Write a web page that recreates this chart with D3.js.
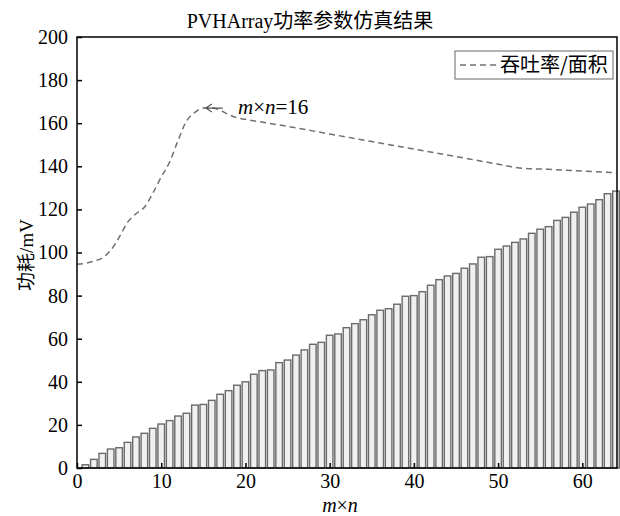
<!DOCTYPE html>
<html>
<head>
<meta charset="utf-8">
<script src="https://cdn.jsdelivr.net/npm/d3@7"></script>
<style>
    body { margin: 0; background: #fff; }
    text { font-family: "Liberation Serif", "Noto Sans CJK SC", serif; }
</style>
</head>
<body>
<svg id="chart" width="620" height="516"></svg>
<script>
// bar values, m×n = 1..64
var barX = d3.range(1, 65);
var barValues = [1.5, 4, 6.8, 8.8, 9.4, 11.9, 14.4, 16.1, 18.4, 20.4,
    22, 24.1, 25.4, 29.2, 29.5, 31.4, 34.2, 35.9, 38.4, 40,
    43.5, 45.2, 45.5, 48.9, 50.1, 52.4, 54.8, 57.4, 58.3, 61.6,
    62.2, 65.1, 67, 68.8, 71.1, 73.2, 73.9, 76, 79.7, 80,
    81.8, 84.8, 87.4, 89.1, 90.3, 92.7, 94.7, 97.8, 98.1, 101.5,
    103, 104.7, 106.3, 108.9, 110.8, 112, 114.9, 116.3, 118.7, 121,
    122.5, 124.5, 127.3, 128.5];

// throughput / area curve
var lineX = [0, 1, 2, 3, 4, 5, 6, 7, 8, 9, 10, 11, 12, 13, 14, 15, 16, 17, 18, 19, 20,
    25, 30, 35, 40, 45, 50, 53, 56, 60, 64];
var lineValues = [94.5, 95, 96, 97.5, 101, 107, 114, 118, 121, 127.5, 135, 142, 152, 161, 165, 167, 167.2, 166, 164, 162.5, 161.8,
    158.5, 155, 151.5, 148, 144.5, 141, 139, 138.6, 137.8, 137];

var yTicks = [0, 20, 40, 60, 80, 100, 120, 140, 160, 180, 200];
var xTicks = [0, 10, 20, 30, 40, 50, 60];

var svg = d3.select("#chart");
var pLeft = 77, pRight = 616, pTop = 37, pBottom = 468;

var x = d3.scaleLinear().domain([0, 64]).range([pLeft, pRight]);
var y = d3.scaleLinear().domain([0, 200]).range([pBottom, pTop]);
var bw = (x(1) - x(0)) * 0.78;

// bars
svg.append("g")
    .selectAll("rect")
    .data(barX)
    .enter().append("rect")
    .attr("x", function(d) { return x(d) - bw / 2; })
    .attr("y", function(d, i) { return y(barValues[i]); })
    .attr("width", bw)
    .attr("height", function(d, i) { return y(0) - y(barValues[i]); })
    .style("fill", "#f0f0f0")
    .style("stroke", "#6a6a6a")
    .style("stroke-width", 1.4);

// dashed curve
var line = d3.line()
    .x(function(d) { return x(d[0]); })
    .y(function(d) { return y(d[1]); })
    .curve(d3.curveMonotoneX);

svg.append("path")
    .datum(lineX.map(function(d, i) { return [d, lineValues[i]]; }))
    .attr("d", line)
    .style("fill", "none")
    .style("stroke", "#707070")
    .style("stroke-width", 1.5)
    .style("stroke-dasharray", "6,4");

// frame
svg.append("rect")
    .attr("x", pLeft).attr("y", pTop)
    .attr("width", pRight - pLeft + 1).attr("height", pBottom - pTop)
    .style("fill", "none")
    .style("stroke", "#000")
    .style("stroke-width", 1.5);

var yAxis = d3.axisLeft(y).tickValues(yTicks).tickSizeInner(-5).tickSizeOuter(0).tickPadding(9);
var gy = svg.append("g").attr("transform", "translate(" + pLeft + ",0)").call(yAxis);
var xAxis = d3.axisBottom(x).tickValues(xTicks).tickSizeInner(-5).tickSizeOuter(0).tickPadding(6);
var gx = svg.append("g").attr("transform", "translate(0," + pBottom + ")").call(xAxis);

[gy, gx].forEach(function(g) {
    g.select(".domain").remove();
    g.selectAll("line").style("stroke", "#000").style("stroke-width", 1.5);
    g.selectAll("text")
        .style("font-family", "Liberation Serif")
        .style("font-size", "20px")
        .style("fill", "#000");
});

// title
svg.append("text")
    .attr("x", 310).attr("y", 28)
    .attr("text-anchor", "middle")
    .style("font-size", "20px")
    .text("PVHArray功率参数仿真结果");

// axis labels
svg.append("text")
    .attr("transform", "translate(33,255) rotate(-90)")
    .attr("text-anchor", "middle")
    .style("font-size", "19px")
    .text("功耗/mV");

var xl = svg.append("text")
    .attr("x", 340).attr("y", 512)
    .attr("text-anchor", "middle")
    .style("font-size", "20px");
xl.append("tspan").style("font-style", "italic").text("m");
xl.append("tspan").text("×");
xl.append("tspan").style("font-style", "italic").text("n");

// annotation arrow and label
var ax = x(15.3), ay = y(167);
svg.append("path")
    .attr("d", "M" + ax + "," + ay + "H" + (ax + 17)
        + "M" + (ax + 6) + "," + (ay - 4) + "L" + ax + "," + ay
        + "L" + (ax + 6) + "," + (ay + 4))
    .style("fill", "none")
    .style("stroke", "#555")
    .style("stroke-width", 1.2);

var ann = svg.append("text")
    .attr("x", 238).attr("y", 114)
    .style("font-size", "21px");
ann.append("tspan").style("font-style", "italic").text("m");
ann.append("tspan").text("×");
ann.append("tspan").style("font-style", "italic").text("n");
ann.append("tspan").text("=16");

// legend
var lg = svg.append("g").attr("transform", "translate(455,51)");
lg.append("rect")
    .attr("width", 158).attr("height", 28)
    .style("fill", "#fff")
    .style("stroke", "#666")
    .style("stroke-width", 1);
lg.append("line")
    .attr("x1", 5).attr("x2", 42).attr("y1", 14).attr("y2", 14)
    .style("stroke", "#707070")
    .style("stroke-width", 1.5)
    .style("stroke-dasharray", "6,4");
lg.append("text")
    .attr("x", 45).attr("y", 21)
    .style("font-family", "Noto Sans CJK SC")
    .style("font-size", "20px")
    .text("吞吐率/面积");
</script>
</body>
</html>
